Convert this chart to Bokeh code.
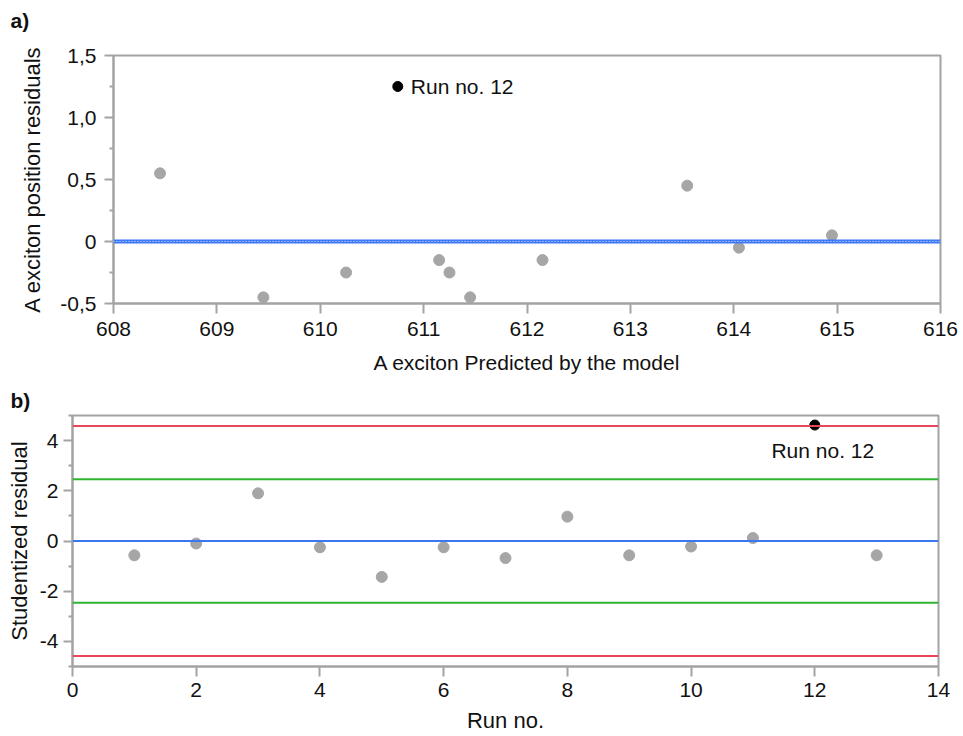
from bokeh.plotting import figure
from bokeh.models import Range1d, FixedTicker, Span, Label, Title
from bokeh.layouts import column, row
from bokeh.embed import file_html
from bokeh.resources import INLINE

# ---- data: panel a) ----
pred_x = [608.45, 609.45, 610.25, 611.15, 611.25, 611.45, 612.15, 613.55, 614.05, 614.95]
pos_resid = [0.55, -0.45, -0.25, -0.15, -0.25, -0.45, -0.15, 0.45, -0.05, 0.05]
outlier_pred = [610.75]
outlier_resid = [1.25]
a_xticks = [608, 609, 610, 611, 612, 613, 614, 615, 616]
a_yticks = [-0.5, 0.0, 0.5, 1.0, 1.5]
a_ytick_labels = ["-0,5", "0", "0,5", "1,0", "1,5"]
a_yminor = [-0.25, 0.25, 0.75, 1.25]

# ---- data: panel b) ----
run_no = [1, 2, 3, 4, 5, 6, 7, 8, 9, 10, 11, 13]
stud_resid = [-0.57, -0.1, 1.9, -0.25, -1.43, -0.25, -0.68, 0.97, -0.57, -0.22, 0.12, -0.57]
outlier_run = [12]
outlier_stud = [4.62]
red_limit = 4.58
green_limit = 2.46
b_xticks = [0, 2, 4, 6, 8, 10, 12, 14]
b_yticks = [-4, -2, 0, 2, 4]
b_ytick_labels = ["-4", "-2", "0", "2", "4"]
b_yminor = [-5, -3, -1, 1, 3, 5]

FONT = "Liberation Sans"
GRAY = "#a3a3a3"
PT_GRAY = "#a6a6a6"
TXT = "#111111"


def style(p):
    p.grid.visible = False
    p.outline_line_color = GRAY
    p.outline_line_width = 2
    for ax in (p.xaxis[0], p.yaxis[0]):
        ax.axis_line_color = GRAY
        ax.axis_line_width = 2
        ax.major_tick_line_color = GRAY
        ax.major_tick_line_width = 2
        ax.minor_tick_line_color = GRAY
        ax.minor_tick_line_width = 2
        ax.major_tick_in = 0
        ax.minor_tick_in = 0
        ax.major_tick_out = 9
        ax.minor_tick_out = 4
        ax.major_label_text_font = FONT
        ax.major_label_text_font_size = "21px"
        ax.major_label_text_color = TXT
        ax.axis_label_text_font = FONT
        ax.axis_label_text_font_size = "22px"
        ax.axis_label_text_font_style = "normal"
        ax.axis_label_text_color = TXT
    p.xaxis[0].minor_tick_out = 0
    p.xaxis[0].major_tick_out = 10
    p.xaxis[0].axis_label_text_font_size = "21px"


def panel_title(text, offset, standoff):
    return Title(text=text, offset=offset, standoff=standoff, align="left",
                 vertical_align="top", text_font=FONT, text_font_size="21px",
                 text_font_style="bold", text_color=TXT)


# ---- panel a ----
p1 = figure(width=963, height=385, output_backend="svg", toolbar_location=None,
            x_range=Range1d(608, 616), y_range=Range1d(-0.5, 1.5), title=None,
            min_border_left=113, min_border_right=23, min_border_top=55, min_border_bottom=82)
style(p1)
# spacer between frame and panel label
p1.add_layout(Title(text=" ", standoff=14, text_font_size="1px", text_color="white"), "above")
p1.add_layout(panel_title("a)", -103, 10), "above")
p1.xaxis.ticker = FixedTicker(ticks=a_xticks, minor_ticks=[])
p1.yaxis.ticker = FixedTicker(ticks=a_yticks, minor_ticks=a_yminor)
p1.yaxis.major_label_overrides = {t: l for t, l in zip(a_yticks, a_ytick_labels)}
p1.xaxis.axis_label = "A exciton Predicted by the model"
p1.yaxis.axis_label = "A exciton position residuals"
p1.xaxis.major_label_standoff = 8
p1.xaxis.axis_label_standoff = 12
p1.yaxis.major_label_standoff = 8
p1.yaxis.axis_label_standoff = 12

p1.add_layout(Span(location=0, dimension="width", line_color="#3d78f5", line_width=4))
p1.add_layout(Span(location=0, dimension="width", line_color="#dce6ff", line_width=1.2,
                   line_dash="1 2"))
p1.scatter(pred_x, pos_resid, size=11, color=PT_GRAY)
p1.scatter(outlier_pred, outlier_resid, size=10, color="black")
p1.add_layout(Label(x=outlier_pred[0], y=outlier_resid[0], text="Run no. 12", x_offset=13,
                    text_baseline="middle", text_font=FONT, text_font_size="21px",
                    text_color=TXT))

# ---- panel b ----
p2 = figure(width=963, height=351, output_backend="svg", toolbar_location=None,
            x_range=Range1d(0, 14), y_range=Range1d(-5, 5), title=None,
            min_border_left=72, min_border_right=25, min_border_top=30, min_border_bottom=70)
style(p2)
p2.add_layout(panel_title("b)", -62, 4), "above")
p2.xaxis.ticker = FixedTicker(ticks=b_xticks, minor_ticks=[])
p2.yaxis.ticker = FixedTicker(ticks=b_yticks, minor_ticks=b_yminor)
p2.yaxis.major_label_overrides = {t: l for t, l in zip(b_yticks, b_ytick_labels)}
p2.xaxis.axis_label = "Run no."
p2.yaxis.axis_label = "Studentized residual"
p2.xaxis.axis_label_text_font_size = "22px"
p2.xaxis.major_label_standoff = 6
p2.xaxis.axis_label_standoff = 8
p2.yaxis.major_label_standoff = 5
p2.yaxis.axis_label_standoff = 5

for loc, col in [(red_limit, "#e8465a"), (-red_limit, "#e8465a"),
                 (green_limit, "#2fb52f"), (-green_limit, "#2fb52f"), (0, "#3a78f0")]:
    p2.add_layout(Span(location=loc, dimension="width", line_color=col, line_width=2))
p2.scatter(run_no, stud_resid, size=11, color=PT_GRAY)
p2.scatter(outlier_run, outlier_stud, size=10, color="black")
p2.add_layout(Label(x=outlier_run[0], y=outlier_stud[0], text="Run no. 12", x_offset=8,
                    y_offset=-25, text_align="center", text_baseline="middle",
                    text_font=FONT, text_font_size="21px", text_color=TXT))

layout = column(p1, row(p2))
open("out.html", "w").write(file_html(layout, INLINE))
